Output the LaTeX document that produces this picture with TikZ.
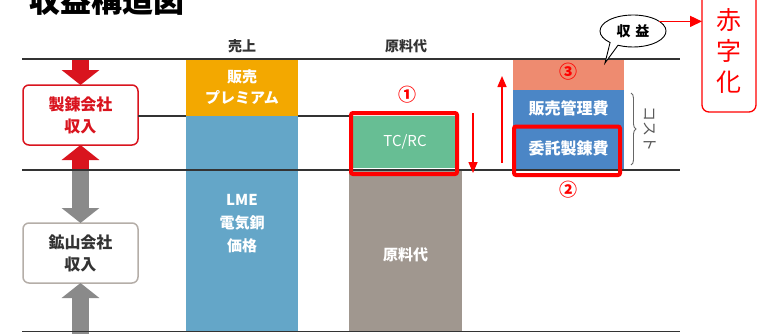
\documentclass[tikz,border=0pt]{standalone}
\usepackage{fontspec}
\setmainfont{Noto Sans CJK JP}
\usetikzlibrary{arrows.meta,shapes.geometric,decorations.pathreplacing}
\definecolor{cOrange}{HTML}{F3A800}
\definecolor{cLightBlue}{HTML}{64A6C8}
\definecolor{cGreen}{HTML}{67BE94}
\definecolor{cTaupe}{HTML}{A0978F}
\definecolor{cSalmon}{HTML}{EE8B70}
\definecolor{cBlue}{HTML}{4B86C6}
\definecolor{cCrimson}{HTML}{D9141E}
\definecolor{cRed}{HTML}{FF0000}
\definecolor{cGrayArrow}{HTML}{8A8A8A}
\definecolor{cGrayBorder}{HTML}{B5AEA8}
\newcommand{\fsz}[2]{\fontsize{#1}{#2}\selectfont}
\tikzset{
  hline/.style={line width=1.4pt, black!80},
  colbox/.style={anchor=north west, inner sep=0pt, text=white, align=center},
  sidebox/.style={rounded corners=6pt, line width=1.5pt, minimum width=115pt, minimum height=60pt, align=center, fill=white, font=\bfseries\fsz{16}{22}},
  fatarrow/.style={line width=17pt, -{Triangle[width=37pt,length=15pt]}},
  thinarrow/.style={cRed, line width=1.5pt, -{Triangle[width=9pt,length=11pt]}},
  redframe/.style={cRed, line width=4pt, rounded corners=2pt},
  circnum/.style={text=cRed, font=\bfseries\fsz{18}{18}},
  collabel/.style={font=\bfseries\fsz{14}{14}, text=black!80},
}
\begin{document}
\begin{tikzpicture}[x=1pt,y=-1pt, every node/.append style={inner sep=0pt, outer sep=0pt}]
\useasboundingbox (0,0) rectangle (758,333);
\fill[white] (0,0) rectangle (758,333);

% title
\node[anchor=base west, font=\bfseries\fsz{31}{31}] (title) at (29,12.5) {収益構造図};

% horizontal line coordinates
\coordinate (L1a) at (22,59);  \coordinate (L1b) at (680,59);
\coordinate (L2a) at (138,116); \coordinate (L2b) at (352,116);
\coordinate (L3a) at (22,170); \coordinate (L3b) at (680,170);
\coordinate (L4a) at (22,331.5); \coordinate (L4b) at (680,331.5);
\coordinate (Lbot) at (22,334);

% left boxes
\node[sidebox, draw=cCrimson, text=cCrimson] (smelter) at (80.5,115) {製錬会社\\収入};
\node[sidebox, draw=cGrayBorder, text=black!80] (mine) at (80.5,253) {鉱山会社\\収入};

% fat arrows
\draw[fatarrow, cGrayArrow] (mine.north |- L3a) -- (mine.north);
\draw[fatarrow, cGrayArrow] (mine.south |- Lbot) -- (mine.south);
\draw[fatarrow, cCrimson] (smelter.north |- L1a) -- (smelter.north);
\draw[fatarrow, cCrimson] (smelter.south |- L3a) -- (smelter.south);

% line 2 (under columns)
\draw[hline] (L2a) -- (L2b);

% column labels
\node[collabel] (lblsales) at (242,46) {売上};
\node[collabel] (lblraw) at (406,46) {原料代};

% sales column
\node[colbox, fill=cOrange, minimum width=112pt, minimum height=57pt, font=\bfseries\fsz{15}{21}] (prem) at (186,59) {販売\\プレミアム};
\node[colbox, fill=cLightBlue, minimum width=112pt, minimum height=215pt, font=\bfseries\fsz{15}{23}] (lme) at (186,116) {LME\\電気銅\\価格};

% raw material column
\node[colbox, fill=cTaupe, minimum width=113pt, minimum height=161pt] (rawcol) at (349,170) {};
\node[text=white, font=\bfseries\fsz{15}{15}] (rawtxt) at (rawcol.center |- 0,255) {原料代};
\node[colbox, fill=cGreen, minimum width=104pt, minimum height=52pt, font=\fsz{15}{15}] (tcrc) at (353,116) {TC/RC};

% cost column
\node[colbox, fill=cSalmon, minimum width=111pt, minimum height=31pt] (profit) at (513,59) {};
\node[colbox, fill=cBlue, minimum width=111pt, minimum height=36pt, font=\bfseries\fsz{16}{16}] (sga) at (513,90) {販売管理費};
\node[colbox, fill=cBlue, minimum width=111pt, minimum height=44pt, font=\bfseries\fsz{16}{16}] (toll) at (513,126) {委託製錬費};

% main lines over columns
\draw[hline] (L1a) -- (L1b);
\draw[hline] (L3a) -- (L3b);
\draw[hline] (L4a) -- (L4b);

% red frames
\draw[redframe] (351,113) rectangle (457,174);
\draw[redframe] (514,126.5) rectangle (620,175);

% circled numbers
\node[circnum] (n1) at (407,95) {①};
\node[circnum] (n2) at (568,190) {②};
\node[circnum] (n3) at (568,72) {③};

% thin red arrows
\coordinate (dA1) at (473,113); \coordinate (dA2) at (473,173);
\draw[thinarrow] (dA1) -- (dA2);
\coordinate (uA1) at (502,163); \coordinate (uA2) at (502,76);
\draw[thinarrow] (uA1) -- (uA2);

% cost brace
\coordinate (brA) at (631,93); \coordinate (brB) at (631,165);
\draw[black!60, line width=0.9pt, decorate, decoration={brace, amplitude=5pt}] (brA) -- (brB);
\node[rotate=-90, text=black!65, font=\fsz{15}{15}] (cost) at (650,129) {コスト};

% speech bubble
\draw[line width=0.9pt, fill=white] (633,31) ++(134:33 and 16) arc[start angle=134, end angle=477, x radius=33, y radius=16] -- (605,63) -- cycle;
\node[ellipse, minimum width=66pt, minimum height=32pt, font=\bfseries\fsz{14}{14}] (bubble) at (633,31) {収\,\,益};

% red-ink box
\node[draw=cRed, line width=1.3pt, rounded corners=7pt, minimum width=54pt, minimum height=122pt, align=center, text=cRed, font=\fsz{25}{31}] (akaji) at (729,51) {赤\\字\\化};
\draw[cRed, line width=1.5pt, -{Triangle[width=11pt,length=12pt]}] (bubble.20) -- (bubble.20 -| akaji.west);

\end{tikzpicture}
\end{document}
